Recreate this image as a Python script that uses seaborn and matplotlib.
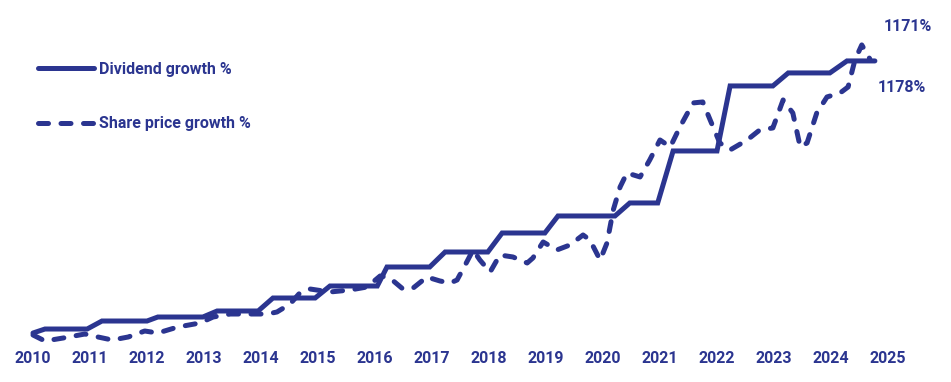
import matplotlib
matplotlib.use("Agg")
import matplotlib.pyplot as plt
import seaborn as sns
import pandas as pd

# ---- data ----
div_years = [2010.0, 2010.21, 2010.95, 2011.21, 2012.0, 2012.19, 2012.98, 2013.23,
             2013.95, 2014.21, 2014.95, 2015.21, 2016.04, 2016.21, 2016.96, 2017.23,
             2017.98, 2018.23, 2018.98, 2019.21, 2020.21, 2020.47, 2020.96, 2021.23,
             2022.0, 2022.23, 2022.98, 2023.25, 2023.98, 2024.28, 2024.77]
div_growth = [8.5, 25.6, 25.6, 59.8, 59.8, 76.9, 76.9, 102.6,
              102.6, 158.1, 158.1, 209.4, 209.4, 290.6, 290.6, 354.7,
              354.7, 435.9, 435.9, 508.6, 508.6, 564.2, 564.2, 786.4,
              786.4, 1064.2, 1064.2, 1119.8, 1119.8, 1171.1, 1171.1]

px_years = [2010.0, 2010.21, 2010.53, 2010.91, 2011.14, 2011.39, 2011.67, 2011.96,
            2012.19, 2012.54, 2012.93, 2013.16, 2013.46, 2013.86, 2014.11, 2014.28,
            2014.51, 2014.68, 2014.86, 2015.21, 2015.56, 2015.86, 2016.09, 2016.26,
            2016.49, 2016.67, 2016.91, 2017.14, 2017.32, 2017.44, 2017.61, 2017.72,
            2017.84, 2018.02, 2018.19, 2018.42, 2018.67, 2018.77, 2018.95, 2019.19,
            2019.42, 2019.65, 2019.77, 2019.95, 2020.07, 2020.18, 2020.30, 2020.42,
            2020.65, 2020.82, 2021.00, 2021.18, 2021.35, 2021.58, 2021.75, 2021.88,
            2022.05, 2022.23, 2022.53, 2022.75, 2022.98, 2023.16, 2023.33, 2023.46,
            2023.58, 2023.75, 2023.93, 2024.16, 2024.30, 2024.42, 2024.54, 2024.68]
px_growth = [0.0, -25.6, -12.8, 4.3, -8.5, -21.4, -8.5, 17.1,
             8.5, 34.2, 51.3, 76.9, 89.7, 89.7, 89.7, 98.3,
             132.5, 179.5, 196.6, 183.8, 192.3, 205.2, 252.2, 243.6,
             196.6, 200.9, 247.9, 230.8, 222.2, 235.1, 312.0, 363.3,
             320.6, 269.3, 341.9, 333.4, 307.7, 329.1, 397.5, 363.3,
             384.7, 427.4, 406.0, 320.6, 393.2, 534.3, 632.6, 692.4,
             675.3, 748.0, 833.4, 803.5, 889.0, 991.6, 995.8, 918.9,
             820.6, 790.7, 833.4, 876.2, 884.7, 1004.4, 948.8, 803.5,
             820.6, 948.8, 1017.2, 1034.3, 1059.9, 1175.4, 1239.5, 1180.0]

year_ticks = list(range(2010, 2026))
series_names = ["Dividend growth %", "Share price growth %"]
end_labels = ["1171%", "1178%"]

# ---- style ----
sns.set_style("white")
plt.rcParams["font.family"] = ["Roboto", "DejaVu Sans"]
navy = "#2B3590"
fs = 11.5

W, H = 951, 382
fig = plt.figure(figsize=(W / 100, H / 100), dpi=100)
left, right = 33 / W, 888 / W
bottom, top = (H - 345) / H, (H - 20) / H
ax = fig.add_axes([left, bottom, right - left, top - bottom])

div_df = pd.DataFrame({"year": div_years, "growth": div_growth})
px_df = pd.DataFrame({"year": px_years, "growth": px_growth})

sns.lineplot(data=div_df, x="year", y="growth", ax=ax, color=navy, lw=3.6,
             estimator=None, sort=False, label=series_names[0])
l1 = ax.lines[-1]
l1.set_solid_capstyle("round")
l1.set_solid_joinstyle("miter")
l1.set_clip_on(False)

sns.lineplot(data=px_df, x="year", y="growth", ax=ax, color=navy, lw=3.6,
             estimator=None, sort=False, label=series_names[1])
l2 = ax.lines[-1]
l2.set_linestyle((0, (2.0, 2.5)))
l2.set_dash_capstyle("round")
l2.set_clip_on(False)

ax.set_xlim(2010, 2025)
ax.set_ylim(-42.7, 1346)
ax.set_xticks(year_ticks)
ax.set_xticklabels([str(y) for y in year_ticks], fontsize=fs, fontweight="bold", color=navy)
ax.tick_params(axis="x", length=0, pad=4)
ax.set_yticks([])
ax.set_xlabel("")
ax.set_ylabel("")
for s in ax.spines.values():
    s.set_visible(False)

leg = ax.legend(loc="upper left", bbox_to_anchor=((38 - 33) / (888 - 33), 1.0 - (62 - 20) / 325),
                frameon=False, handlelength=3.5, handletextpad=0.3, labelspacing=2.45,
                prop={"size": fs, "weight": "bold"}, borderaxespad=0, borderpad=0)
for t in leg.get_texts():
    t.set_color(navy)

ax.text(2024.93, 1318, end_labels[0], ha="left", va="center", fontsize=fs,
        fontweight="bold", color=navy, clip_on=False)
ax.text(2024.82, 1056, end_labels[1], ha="left", va="center", fontsize=fs,
        fontweight="bold", color=navy, clip_on=False)

fig.savefig("out.png", dpi=100)
